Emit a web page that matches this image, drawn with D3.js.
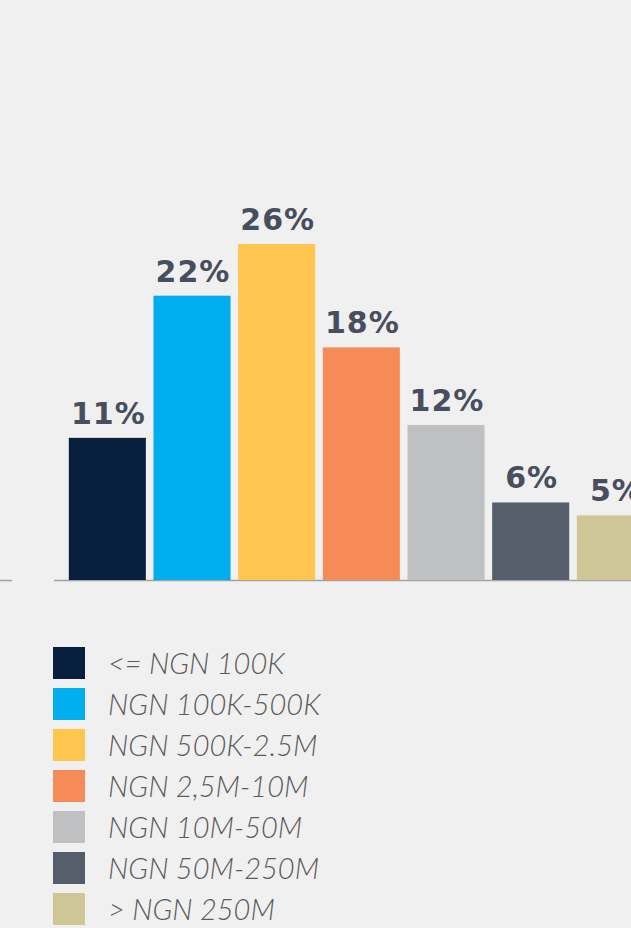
<!DOCTYPE html>
<html>
<head>
<meta charset="utf-8">
<script src="https://cdn.jsdelivr.net/npm/d3@7"></script>
<style>
  html, body { margin: 0; padding: 0; background: #f0f0f0; }
  svg { display: block; }
  .valor { font-family: "DejaVu Sans", sans-serif; font-weight: bold; fill: #474e5d; }
  .leyenda { font-family: Lato, sans-serif; font-style: italic; font-weight: 300; fill: #5c5c5c; }
</style>
</head>
<body>
<div id="chart"></div>
<script>
const WIDTH = 631
const HEIGHT = 928

// categorias de ingreso y su porcentaje
const categories = ['<= NGN 100K', 'NGN 100K-500K', 'NGN 500K-2.5M', 'NGN 2,5M-10M', 'NGN 10M-50M', 'NGN 50M-250M', '> NGN 250M']
const values = [11, 22, 26, 18, 12, 6, 5]
const labels = ['11%', '22%', '26%', '18%', '12%', '6%', '5%']
const colors = ['#08203e', '#00adee', '#ffc54f', '#f68b58', '#bfc0c2', '#575e6b', '#cfc698']

const baseY = 580

const svg = d3.select('#chart')
    .append('svg')
        .attr('width', WIDTH)
        .attr('height', HEIGHT)

// escalas
const x = d3.scaleBand()
    .domain(categories)
    .range([65, 65 + 7 * 84.67])
    .paddingInner(0.09)
    .paddingOuter(0.045)

const y = d3.scaleLinear()
    .domain([0, 26])
    .range([baseY, 244])

// linea base (con el corte a la izquierda)
svg.append('line')
    .attr('x1', 0).attr('x2', 12)
    .attr('y1', baseY + 0.5).attr('y2', baseY + 0.5)
    .attr('stroke', '#a3a3a3').attr('stroke-width', 1.5)
svg.append('line')
    .attr('x1', 54).attr('x2', WIDTH)
    .attr('y1', baseY + 0.5).attr('y2', baseY + 0.5)
    .attr('stroke', '#a3a3a3').attr('stroke-width', 1.5)

// barras
svg.selectAll('rect.bar')
    .data(values)
    .enter().append('rect')
        .attr('class', 'bar')
        .attr('x', (d, i) => x(categories[i]))
        .attr('y', d => y(d))
        .attr('width', x.bandwidth())
        .attr('height', d => baseY - y(d))
        .attr('fill', (d, i) => colors[i])

// etiquetas de valor (la ultima queda cortada en el borde, como en el original)
svg.selectAll('text.valor')
    .data(values)
    .enter().append('text')
        .attr('class', 'valor')
        .attr('x', (d, i) => x(categories[i]) + x.bandwidth() / 2 + 1)
        .attr('y', d => y(d) - 14)
        .attr('text-anchor', 'middle')
        .style('font-size', '30px')
        .style('letter-spacing', '1px')
        .text((d, i) => labels[i])

// leyenda
const leyenda = svg.append('g')
    .attr('transform', 'translate(53, 647)')

const item = leyenda.selectAll('g')
    .data(categories)
    .enter().append('g')
        .attr('transform', (d, i) => `translate(0, ${i * 41})`)

item.append('rect')
    .attr('width', 32)
    .attr('height', 32)
    .attr('fill', (d, i) => colors[i])

item.append('text')
    .attr('class', 'leyenda')
    .attr('x', 55)
    .attr('y', 27)
    .style('font-size', '29px')
    .text(d => d)
</script>
</body>
</html>
